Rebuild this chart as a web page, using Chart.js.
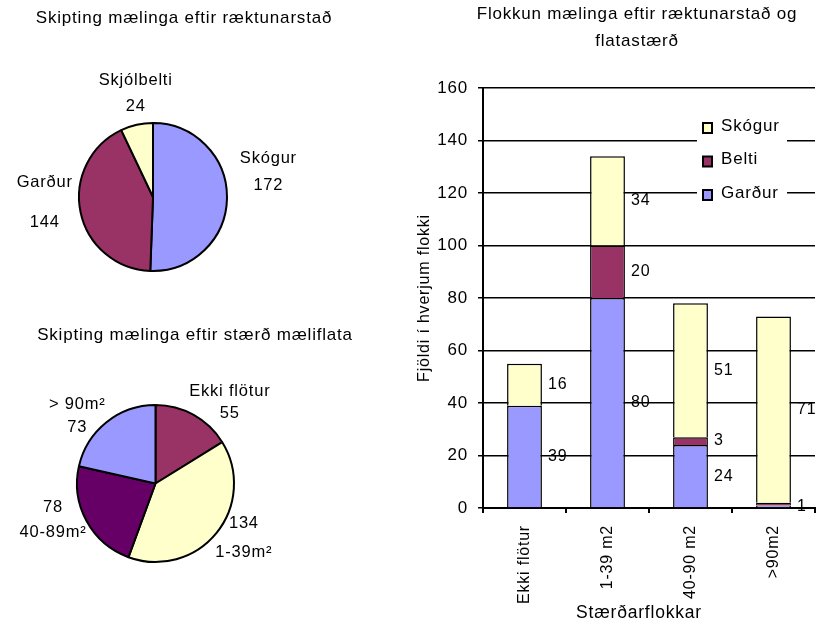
<!DOCTYPE html>
<html>
<head>
<meta charset="utf-8">
<script src="https://cdn.jsdelivr.net/npm/chart.js@4/dist/chart.umd.min.js"></script>
<style>
  html, body { margin: 0; padding: 0; background: #ffffff; }
  body { width: 819px; height: 624px; position: relative; overflow: hidden; }
  canvas { position: absolute; }
</style>
</head>
<body>
<canvas id="sitePie" width="400" height="300" style="left:0;top:0;width:400px;height:300px"></canvas>
<canvas id="sizePie" width="400" height="300" style="left:0;top:300px;width:400px;height:300px"></canvas>
<canvas id="stackBar" width="419" height="624" style="left:400px;top:0;width:419px;height:624px"></canvas>
<script>
// ---- data ----
const siteLabels = ['Skógur', 'Garður', 'Skjólbelti'];
const siteCounts = [172, 144, 24];

const sizePieLabels = ['Ekki flötur', '1-39m\u00B2', '40-89m\u00B2', '> 90m\u00B2'];
const sizePieCounts = [55, 134, 78, 73];

const sizeClasses = ['Ekki flötur', '1-39 m2', '40-90 m2', '>90m2'];
const gardurCounts = [39, 80, 24, 1];
const beltiCounts = [0, 20, 3, 1];
const skogurCounts = [16, 34, 51, 71];

const yTicks = [0, 20, 40, 60, 80, 100, 120, 140, 160];

// ---- styling ----
const FONT_FAMILY = '"Liberation Sans", Arial, Helvetica, sans-serif';
const SPACING = '0.8px';
const SIZE = { title: 17, pieLabel: 16.5, legend: 17, axisTitleX: 17.5, axisTitleY: 16, yTick: 17, xTick: 16, value: 16 };
const C_BLUE = '#9999ff';
const C_PLUM = '#993366';
const C_CREAM = '#ffffcc';
const C_PURPLE = '#660066';

Chart.defaults.font.family = FONT_FAMILY;
Chart.defaults.font.size = 16;
Chart.defaults.color = '#000';

const fontStr = (size) => size + 'px ' + FONT_FAMILY;

// letter spacing applied to every text the canvas draws
const spacingPlugin = {
  id: 'spacing',
  beforeLayout(chart) { chart.ctx.letterSpacing = SPACING; },
  beforeDraw(chart) { chart.ctx.letterSpacing = SPACING; }
};

// centred title lines drawn at fixed canvas positions
function titlePlugin(lines) {
  return {
    id: 'titleLines',
    afterDraw(chart) {
      const ctx = chart.ctx;
      ctx.save();
      ctx.letterSpacing = SPACING;
      ctx.font = fontStr(SIZE.title);
      ctx.fillStyle = '#000';
      ctx.textAlign = 'center';
      ctx.textBaseline = 'middle';
      lines.forEach(l => ctx.fillText(l.text, l.x, l.y));
      ctx.restore();
    }
  };
}

// two-line outside labels for the pie slices
function pieLabelPlugin(names, layout) {
  return {
    id: 'pieLabels',
    afterDatasetsDraw(chart) {
      const ctx = chart.ctx;
      const meta = chart.getDatasetMeta(0);
      const values = chart.data.datasets[0].data;
      ctx.save();
      ctx.letterSpacing = SPACING;
      ctx.font = fontStr(SIZE.pieLabel);
      ctx.fillStyle = '#000';
      ctx.textAlign = 'center';
      ctx.textBaseline = 'middle';
      meta.data.forEach((arc, i) => {
        const mid = (arc.startAngle + arc.endAngle) / 2;
        const r = arc.outerRadius * layout.factor;
        const cx = arc.x + r * Math.cos(mid) + layout.nudge[i][0];
        const cy = arc.y + r * Math.sin(mid) + layout.nudge[i][1];
        const gap = layout.gap[i];
        const first = layout.valueFirst[i] ? String(values[i]) : names[i];
        const second = layout.valueFirst[i] ? names[i] : String(values[i]);
        ctx.fillText(first, cx, cy - gap / 2);
        ctx.fillText(second, cx, cy + gap / 2);
      });
      ctx.restore();
    }
  };
}

const pieBase = (padding) => ({
  responsive: false,
  animation: false,
  layout: { padding },
  plugins: { legend: { display: false }, tooltip: { enabled: false } }
});

// ---- pie: measurements by growing site ----
new Chart(document.getElementById('sitePie'), {
  type: 'pie',
  data: {
    labels: siteLabels,
    datasets: [{
      data: siteCounts,
      backgroundColor: [C_BLUE, C_PLUM, C_CREAM],
      borderColor: '#000',
      borderWidth: 2
    }]
  },
  options: pieBase({ left: 78, right: 172, top: 122, bottom: 28 }),
  plugins: [
    spacingPlugin,
    titlePlugin([{ text: 'Skipting mælinga eftir ræktunarstað', x: 184, y: 18 }]),
    pieLabelPlugin(siteLabels, {
      factor: 1.37,
      gap: [27, 40, 26],
      valueFirst: [false, false, false],
      nudge: [[14, -27], [-9, -15], [5, -5]]
    })
  ]
});

// ---- pie: measurements by plot size ----
new Chart(document.getElementById('sizePie'), {
  type: 'pie',
  data: {
    labels: sizePieLabels,
    datasets: [{
      data: sizePieCounts,
      backgroundColor: [C_PLUM, C_CREAM, C_PURPLE, C_BLUE],
      borderColor: '#000',
      borderWidth: 2
    }]
  },
  options: pieBase({ left: 76, right: 165, top: 104, bottom: 37 }),
  plugins: [
    spacingPlugin,
    titlePlugin([{ text: 'Skipting mælinga eftir stærð mæliflata', x: 195, y: 35 }]),
    pieLabelPlugin(sizePieLabels, {
      factor: 1.37,
      gap: [22, 29, 25, 23],
      valueFirst: [false, true, true, false],
      nudge: [[22, 13], [5, -13], [-8, -15], [-11, 16]]
    })
  ]
});

// ---- stacked bars: site by size class ----
const valueLabelPlugin = {
  id: 'valueLabels',
  afterDatasetsDraw(chart) {
    const ctx = chart.ctx;
    ctx.save();
    ctx.letterSpacing = SPACING;
    ctx.font = fontStr(SIZE.value);
    ctx.fillStyle = '#000';
    ctx.textAlign = 'left';
    ctx.textBaseline = 'middle';
    const placed = {};
    chart.data.datasets.forEach((ds, di) => {
      chart.getDatasetMeta(di).data.forEach((bar, i) => {
        const v = ds.data[i];
        if (!v) return;
        const y = (bar.y + bar.base) / 2;
        if (placed[i] !== undefined && Math.abs(placed[i] - y) < 14) return;
        placed[i] = y;
        ctx.fillText(String(v), bar.x + bar.width / 2 + 6, y);
      });
    });
    ctx.restore();
  }
};

const barLegendPlugin = {
  id: 'barLegend',
  afterDraw(chart) {
    const ctx = chart.ctx;
    const box = { x: 297, y: 110, w: 90, h: 100 };
    ctx.save();
    ctx.fillStyle = '#fff';
    ctx.fillRect(box.x, box.y, box.w, box.h);
    ctx.letterSpacing = SPACING;
    ctx.font = fontStr(SIZE.legend);
    ctx.textAlign = 'left';
    ctx.textBaseline = 'middle';
    const order = chart.data.datasets.map((d, i) => i).reverse();
    order.forEach((di, k) => {
      const ds = chart.data.datasets[di];
      const cy = 126 + k * 33.5;
      ctx.fillStyle = ds.backgroundColor;
      ctx.fillRect(303, cy - 3, 9, 10);
      ctx.strokeStyle = '#000';
      ctx.lineWidth = 2;
      ctx.strokeRect(303, cy - 3, 9, 10);
      ctx.fillStyle = '#000';
      ctx.fillText(ds.label, 321, cy);
    });
    ctx.restore();
  }
};

const axisTitlePlugin = {
  id: 'axisTitles',
  afterDraw(chart) {
    const ctx = chart.ctx;
    ctx.save();
    ctx.letterSpacing = SPACING;
    ctx.fillStyle = '#000';
    ctx.textAlign = 'center';
    ctx.textBaseline = 'middle';
    ctx.font = fontStr(SIZE.axisTitleX);
    ctx.fillText('Stærðarflokkar', 239, 613);
    ctx.font = fontStr(SIZE.axisTitleY);
    ctx.translate(25, 298);
    ctx.rotate(-Math.PI / 2);
    ctx.fillText('Fjöldi í hverjum flokki', 0, 0);
    ctx.restore();
  }
};

const barSet = (label, data, color) => ({
  label, data,
  backgroundColor: color,
  borderColor: '#000',
  borderWidth: 1.5,
  borderSkipped: 'start',
  categoryPercentage: 1,
  barPercentage: 0.42
});

new Chart(document.getElementById('stackBar'), {
  type: 'bar',
  data: {
    labels: sizeClasses,
    datasets: [
      barSet('Garður', gardurCounts, C_BLUE),
      barSet('Belti', beltiCounts, C_PLUM),
      barSet('Skógur', skogurCounts, C_CREAM)
    ]
  },
  options: {
    responsive: false,
    animation: false,
    layout: { padding: { top: 88, right: 4, left: 0, bottom: 0 } },
    plugins: { legend: { display: false }, tooltip: { enabled: false } },
    scales: {
      x: {
        stacked: true,
        grid: { drawOnChartArea: false, drawTicks: true, tickLength: 5, color: '#000', lineWidth: 2, offset: true },
        border: { color: '#000', width: 2 },
        ticks: { color: '#000', font: { size: SIZE.xTick }, autoSkip: false, maxRotation: 90, minRotation: 90, padding: 12 },
        afterFit(scale) { scale.height = 116; }
      },
      y: {
        stacked: true,
        min: 0, max: 160,
        afterBuildTicks(scale) { scale.ticks = yTicks.map(v => ({ value: v })); },
        grid: { color: '#000', lineWidth: 1.5, tickLength: 5 },
        border: { color: '#000', width: 2 },
        ticks: { color: '#000', font: { size: SIZE.yTick }, padding: 10 },
        afterFit(scale) { scale.width = 83; }
      }
    }
  },
  plugins: [
    spacingPlugin,
    titlePlugin([
      { text: 'Flokkun mælinga eftir ræktunarstað og', x: 237, y: 14 },
      { text: 'flatastærð', x: 237, y: 41 }
    ]),
    valueLabelPlugin,
    axisTitlePlugin,
    barLegendPlugin
  ]
});
</script>
</body>
</html>
